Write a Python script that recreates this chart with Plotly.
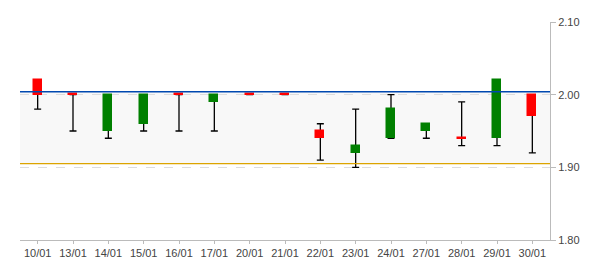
import plotly.graph_objects as go

dates = ["10/01", "13/01", "14/01", "15/01", "16/01", "17/01", "20/01", "21/01",
         "22/01", "23/01", "24/01", "27/01", "28/01", "29/01", "30/01"]
open_ = [2.02, 2.00, 1.95, 1.96, 2.00, 1.99, 2.00, 2.00, 1.95, 1.92, 1.94, 1.95, 1.94, 1.94, 2.00]
close = [2.00, 2.00, 2.00, 2.00, 2.00, 2.00, 2.00, 2.00, 1.94, 1.93, 1.98, 1.96, 1.94, 2.02, 1.97]
high = [2.02, 2.00, 2.00, 2.00, 2.00, 2.00, 2.00, 2.00, 1.96, 1.98, 2.00, 1.96, 1.99, 2.02, 2.00]
low = [1.98, 1.95, 1.94, 1.95, 1.95, 1.95, 2.00, 2.00, 1.91, 1.90, 1.94, 1.94, 1.93, 1.93, 1.92]
direction = ["down", "down", "up", "up", "down", "up", "down", "down",
             "down", "up", "up", "up", "down", "up", "down"]

band_upper = 2.004
band_lower = 1.905
y_ticks = [1.80, 1.90, 2.00, 2.10]
y_range = [1.80, 2.10]

UP = "#008000"
DOWN = "#ff0000"
MIN_BODY = 0.002

base = []
height = []
for o, c in zip(open_, close):
    lo, hi = min(o, c), max(o, c)
    if hi - lo < MIN_BODY:
        base.append(lo - MIN_BODY / 2)
        height.append(MIN_BODY)
    else:
        base.append(lo)
        height.append(hi - lo)
colors = [UP if d == "up" else DOWN for d in direction]

fig = go.Figure()

# wicks with caps (drawn on the lower subplot layer)
fig.add_trace(go.Scatter(
    x=dates, y=low, mode="markers", xaxis="x", yaxis="y",
    marker=dict(size=1, color="rgba(0,0,0,0)"),
    error_y=dict(type="data", symmetric=False,
                 array=[h - l for h, l in zip(high, low)],
                 arrayminus=[0] * len(low),
                 color="#000000", thickness=1.3, width=3.5),
    hoverinfo="skip", showlegend=False,
))

# bodies (overlaid axis so they are drawn above the wicks)
fig.add_trace(go.Bar(
    x=dates, y=height, base=base, width=0.23, xaxis="x", yaxis="y2",
    marker=dict(color=colors, line=dict(width=1.5, color=colors)),
    customdata=list(zip(open_, high, low, close)),
    hovertemplate="%{x}<br>O %{customdata[0]:.2f}<br>H %{customdata[1]:.2f}"
                  "<br>L %{customdata[2]:.2f}<br>C %{customdata[3]:.2f}<extra></extra>",
    showlegend=False,
))

fig.add_shape(type="rect", xref="paper", x0=0, x1=1, yref="y",
              y0=band_lower, y1=band_upper, fillcolor="#f8f8f8",
              line=dict(width=0), layer="below")
fig.add_shape(type="line", xref="paper", x0=0, x1=1, yref="y",
              y0=band_upper, y1=band_upper, line=dict(color="#0048b0", width=1.3),
              layer="above")
fig.add_shape(type="line", xref="paper", x0=0, x1=1, yref="y",
              y0=band_lower, y1=band_lower, line=dict(color="#dca400", width=1.3),
              layer="above")

fig.update_layout(
    width=600, height=270,
    margin=dict(l=20, r=50, t=22, b=30),
    paper_bgcolor="white", plot_bgcolor="white",
    font=dict(family="Liberation Sans, Arial, sans-serif", size=11, color="#444444"),
    bargap=0,
    xaxis=dict(type="category", range=[-0.5, len(dates) - 0.5],
               showline=True, linecolor="#bbbbbb", linewidth=1,
               ticks="outside", ticklen=3, tickcolor="#bbbbbb",
               showgrid=False, zeroline=False, fixedrange=True),
    yaxis=dict(side="right", range=y_range, tickvals=y_ticks,
               tickformat=".2f",
               showline=True, linecolor="#bbbbbb", linewidth=1,
               ticks="outside", ticklen=5, tickcolor="#bbbbbb",
               showgrid=True, gridcolor="#dddddd", griddash="dash", gridwidth=1,
               zeroline=False, fixedrange=True),
    yaxis2=dict(overlaying="y", side="right", range=y_range, visible=False,
                showgrid=False, zeroline=False, fixedrange=True),
)

fig.write_html("out.html")
